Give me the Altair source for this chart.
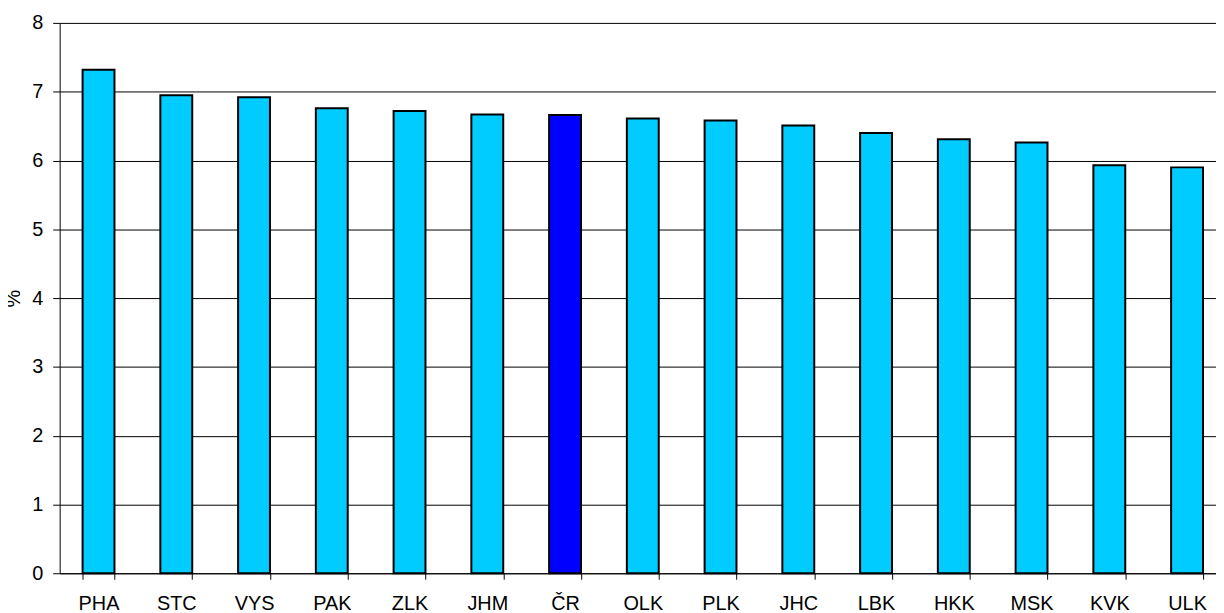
import altair as alt
import pandas as pd

regions = ["PHA", "STC", "VYS", "PAK", "ZLK", "JHM", "ČR", "OLK", "PLK", "JHC",
           "LBK", "HKK", "MSK", "KVK", "ULK"]
values = [7.32, 6.95, 6.92, 6.76, 6.72, 6.67, 6.66, 6.61, 6.58, 6.51,
          6.40, 6.31, 6.26, 5.93, 5.90]
highlight = ["ČR"]

df = pd.DataFrame({
    "region": regions,
    "value": values,
    "group": ["total" if r in highlight else "kraj" for r in regions],
})

FONT = "Liberation Sans"

chart = alt.Chart(df).mark_bar(stroke="black", strokeWidth=2).encode(
    x=alt.X("region:N", sort=regions,
            scale=alt.Scale(paddingInner=0.59, paddingOuter=0.295, range=[0, 1174]),
            axis=alt.Axis(title=None, labelAngle=0, tickBand="extent",
                          labelPadding=14, tickSize=6, labelFontSize=20,
                          labelColor="black", domainColor="black",
                          tickColor="black", labelFont=FONT)),
    y=alt.Y("value:Q",
            scale=alt.Scale(domain=[0, 8], nice=False, zero=True),
            axis=alt.Axis(title="%", values=list(range(0, 9)), tickSize=7,
                          labelPadding=10, labelFontSize=20, labelColor="black",
                          titleFontSize=20, titleFontWeight="normal",
                          titleColor="black", titlePadding=8,
                          titleFont=FONT, labelFont=FONT,
                          domainColor="black", tickColor="black",
                          grid=True, gridColor="black", gridOpacity=1, gridWidth=1)),
    color=alt.Color("group:N",
                    scale=alt.Scale(domain=["kraj", "total"], range=["#00CCFF", "#0000FF"]),
                    legend=None),
).properties(
    width=1164, height=554,
    autosize=alt.AutoSizeParams(type="none"),
    padding={"left": 52, "top": 13, "right": 0, "bottom": 37},
).configure_view(stroke=None).configure_axis(domainWidth=1, tickWidth=1)

chart.save("out.html", embed_options={"renderer": "svg", "actions": False})
